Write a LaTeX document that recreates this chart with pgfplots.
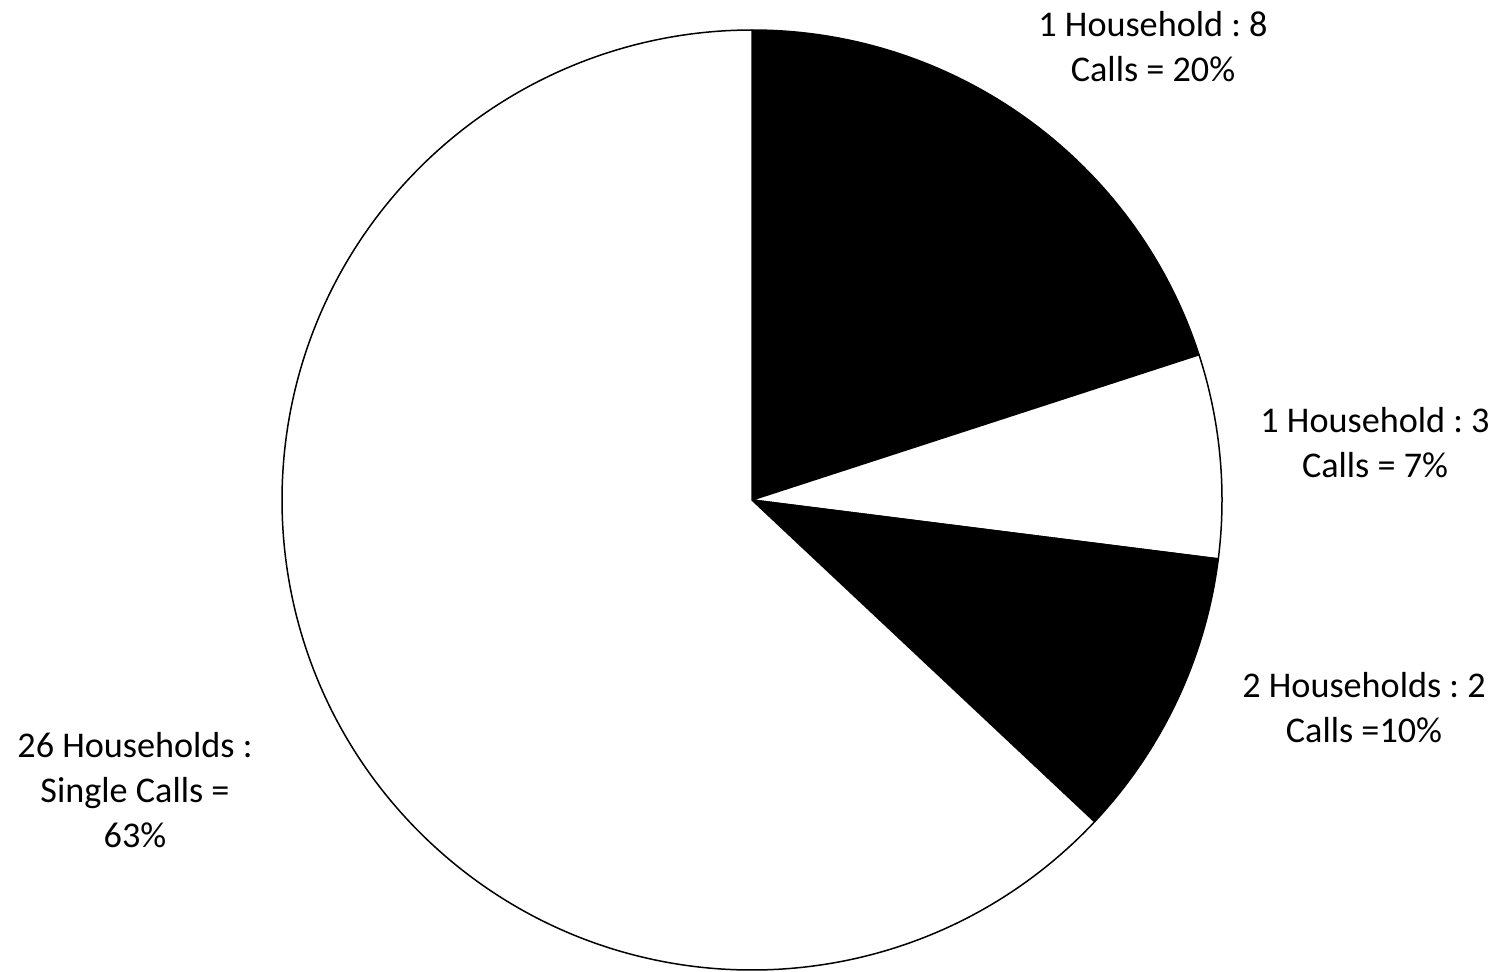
\documentclass[border=0pt]{standalone}
\usepackage{pgfplots}
\usepackage{pgfplotstable}
\pgfplotsset{compat=1.18}
\usepackage{fontspec}
\setmainfont{Carlito}
\frenchspacing
\pgfplotstableread{
pct col
20 black
7 white
10 black
63 white
}\piedata
\begin{document}
\begin{tikzpicture}
\begin{axis}[
  x=0.1mm, y=0.1mm,
  xmin=0, xmax=1501, ymin=0, ymax=971,
  hide axis, clip=false, scale only axis,
]
\addplot[draw=none, mark=none, forget plot] coordinates {(0,0) (1501,971)};
\coordinate (sw) at (axis cs:0,0);
\coordinate (ne) at (axis cs:1501,971);
\pgfplotsextra{
  \def\ang{90}
  \pgfplotsforeachungrouped \i in {0,...,3}{
    \pgfplotstablegetelem{\i}{pct}\of\piedata \let\p=\pgfplotsretval
    \pgfplotstablegetelem{\i}{col}\of\piedata \let\c=\pgfplotsretval
    \pgfmathsetmacro\endang{\ang-3.6*\p}
    \filldraw[fill=\c, draw=black, line width=0.15mm, line join=round]
      (axis cs:752,471) -- ++(\ang:47mm) arc[start angle=\ang, end angle=\endang, radius=47mm] -- cycle;
    \global\let\ang=\endang
  }
}
\begin{scope}[every node/.style={align=center, font=\fontsize{10.3}{12.8}\selectfont\frenchspacing, inner sep=0pt}]
\node at (axis cs:1153,924) {1 Household : 8\\Calls = 20\%};
\node at (axis cs:1375,528) {1 Household : 3\\Calls = 7\%};
\node at (axis cs:1364,263) {2 Households : 2\\Calls =10\%};
\node at (axis cs:135,181) {26 Households :\\Single Calls =\\63\%};
\end{scope}
\end{axis}
\pgfresetboundingbox
\useasboundingbox (sw) rectangle (ne);
\end{tikzpicture}
\end{document}
